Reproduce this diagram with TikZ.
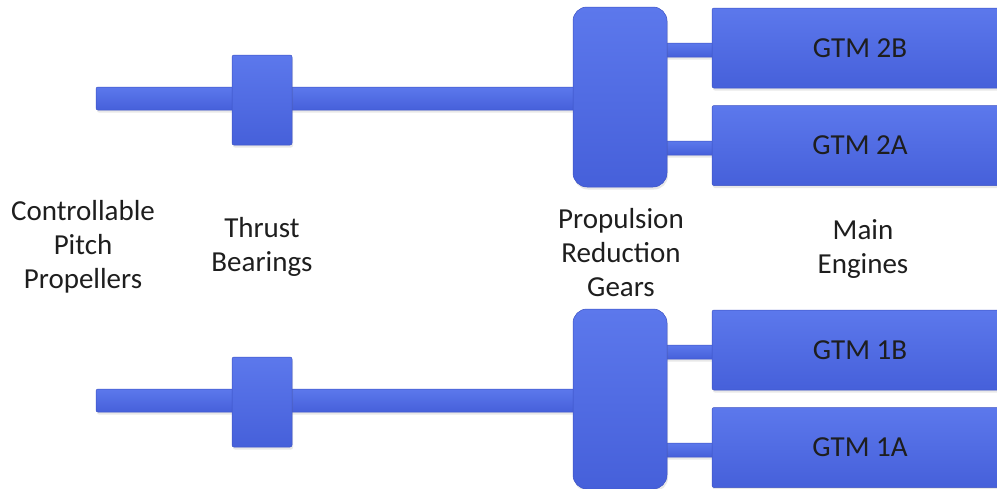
\documentclass[tikz,border=0pt]{standalone}
\usepackage{fontspec}
\setmainfont{Carlito}
\usetikzlibrary{shadows}
\definecolor{parttop}{HTML}{5C78EC}
\definecolor{partbot}{HTML}{4660DA}
\definecolor{partedge}{HTML}{3C52C4}
\definecolor{inkdark}{HTML}{1E1E1E}
\tikzset{
  part/.style={top color=parttop, bottom color=partbot, draw=partedge,
    line width=0.5pt, inner sep=0pt,
    drop shadow={opacity=0.18, shadow xshift=1pt, shadow yshift=-2.5pt}},
  shaftbar/.style={part, rounded corners=2pt},
  bearing/.style={part, rounded corners=2pt, minimum width=60pt, minimum height=90pt},
  gearbox/.style={part, rounded corners=14pt, minimum width=94pt, minimum height=180pt},
  engine/.style={part, rounded corners=2pt, minimum width=296pt, minimum height=80pt,
    text=inkdark, font=\fontsize{29}{34}\selectfont},
  heading/.style={align=center, text=inkdark, font=\fontsize{29}{34}\selectfont, inner sep=0pt}
}
\begin{document}
\begin{tikzpicture}[x=1pt, y=-1pt]
  \useasboundingbox (0,0) rectangle (997,488);
  \clip (0,0) rectangle (997,488);

  % ---- upper drive line (engines 2A/2B) ----
  \node[shaftbar, minimum width=480pt, minimum height=23pt] (shaftU) at (336,98.5) {};
  \node[shaftbar, minimum width=50pt, minimum height=14pt] (linkUB) at (690,50) {};
  \node[shaftbar, minimum width=50pt, minimum height=14pt] (linkUA) at (690,148) {};
  \node[bearing] (bearU) at (262,100) {};
  \node[gearbox] (gearU) at (620,97) {};
  \node[engine] (gtm2b) at (860,48) {GTM 2B};
  \node[engine] (gtm2a) at (860,145.5) {GTM 2A};

  % ---- lower drive line (engines 1A/1B) ----
  \node[shaftbar, minimum width=480pt, minimum height=23pt] (shaftL) at (336,400.5) {};
  \node[shaftbar, minimum width=50pt, minimum height=14pt] (linkLB) at (690,352) {};
  \node[shaftbar, minimum width=50pt, minimum height=14pt] (linkLA) at (690,450) {};
  \node[bearing] (bearL) at (262,402) {};
  \node[gearbox] (gearL) at (620,399) {};
  \node[engine] (gtm1b) at (860,350) {GTM 1B};
  \node[engine] (gtm1a) at (860,447.5) {GTM 1A};

  % ---- component captions ----
  \node[heading] (capProp) at (83,247) {Controllable\\Pitch\\Propellers};
  \node[heading] (capBear) at (262,247) {Thrust\\Bearings};
  \node[heading] (capGear) at (621,253) {Propulsion\\Reduction\\Gears};
  \node[heading] (capEng) at (863,249) {Main\\Engines};
\end{tikzpicture}
\end{document}
